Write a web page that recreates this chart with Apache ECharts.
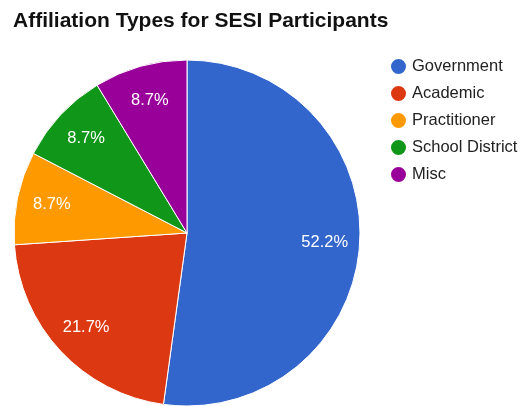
<!DOCTYPE html>
<html>
<head>
<meta charset="utf-8">
<script src="https://cdn.jsdelivr.net/npm/echarts@6/dist/echarts.min.js"></script>
<style>
  html, body { margin: 0; padding: 0; background: #fff; }
  #chart { width: 524px; height: 406px; }
</style>
</head>
<body>
<div id="chart"></div>
<script>
// affiliation counts (52.2 / 21.7 / 8.7 / 8.7 / 8.7 %)
const categories = ['Government', 'Academic', 'Practitioner', 'School District', 'Misc'];
const counts = [12, 5, 2, 2, 2];
const colors = ['#3366cc', '#dc3912', '#ff9900', '#109618', '#990099'];

const font = '"Liberation Sans", Arial, sans-serif';
const center = [187, 233];
const radius = 173;

const pieData = categories.map((name, i) => ({ name: name, value: counts[i] }));

let chart = echarts.init(document.getElementById('chart'));
chart.setOption({
    animation: false,
    color: colors,
    title: {
        text: 'Affiliation Types for SESI Participants',
        left: 8,
        top: 6,
        textStyle: { fontFamily: font, fontSize: 21, fontWeight: 'bold', color: '#111' }
    },
    legend: {
        orient: 'vertical',
        left: 384,
        top: 52,
        icon: 'circle',
        itemWidth: 17,
        itemHeight: 17,
        itemGap: 8,
        textStyle: { fontFamily: font, fontSize: 16.5, color: '#222' },
        data: categories
    },
    series: [
        {
            type: 'pie',
            center: center,
            radius: [0, radius],
            startAngle: 90,
            clockwise: true,
            label: { show: false },
            labelLine: { show: false },
            itemStyle: { borderColor: '#fff', borderWidth: 1 },
            emphasis: { disabled: true },
            data: pieData
        },
        {
            // invisible ring just to place the percentage labels further out
            type: 'pie',
            center: center,
            radius: [97, radius],
            startAngle: 90,
            clockwise: true,
            silent: true,
            legendHoverLink: false,
            itemStyle: { color: 'rgba(0,0,0,0)' },
            label: {
                show: true,
                position: 'inside',
                formatter: p => p.percent.toFixed(1) + '%',
                color: '#fff',
                fontFamily: font,
                fontSize: 16.5
            },
            labelLine: { show: false },
            emphasis: { disabled: true },
            data: categories.map((name, i) => ({ name: name + ' ', value: counts[i] }))
        }
    ]
});
</script>
</body>
</html>
